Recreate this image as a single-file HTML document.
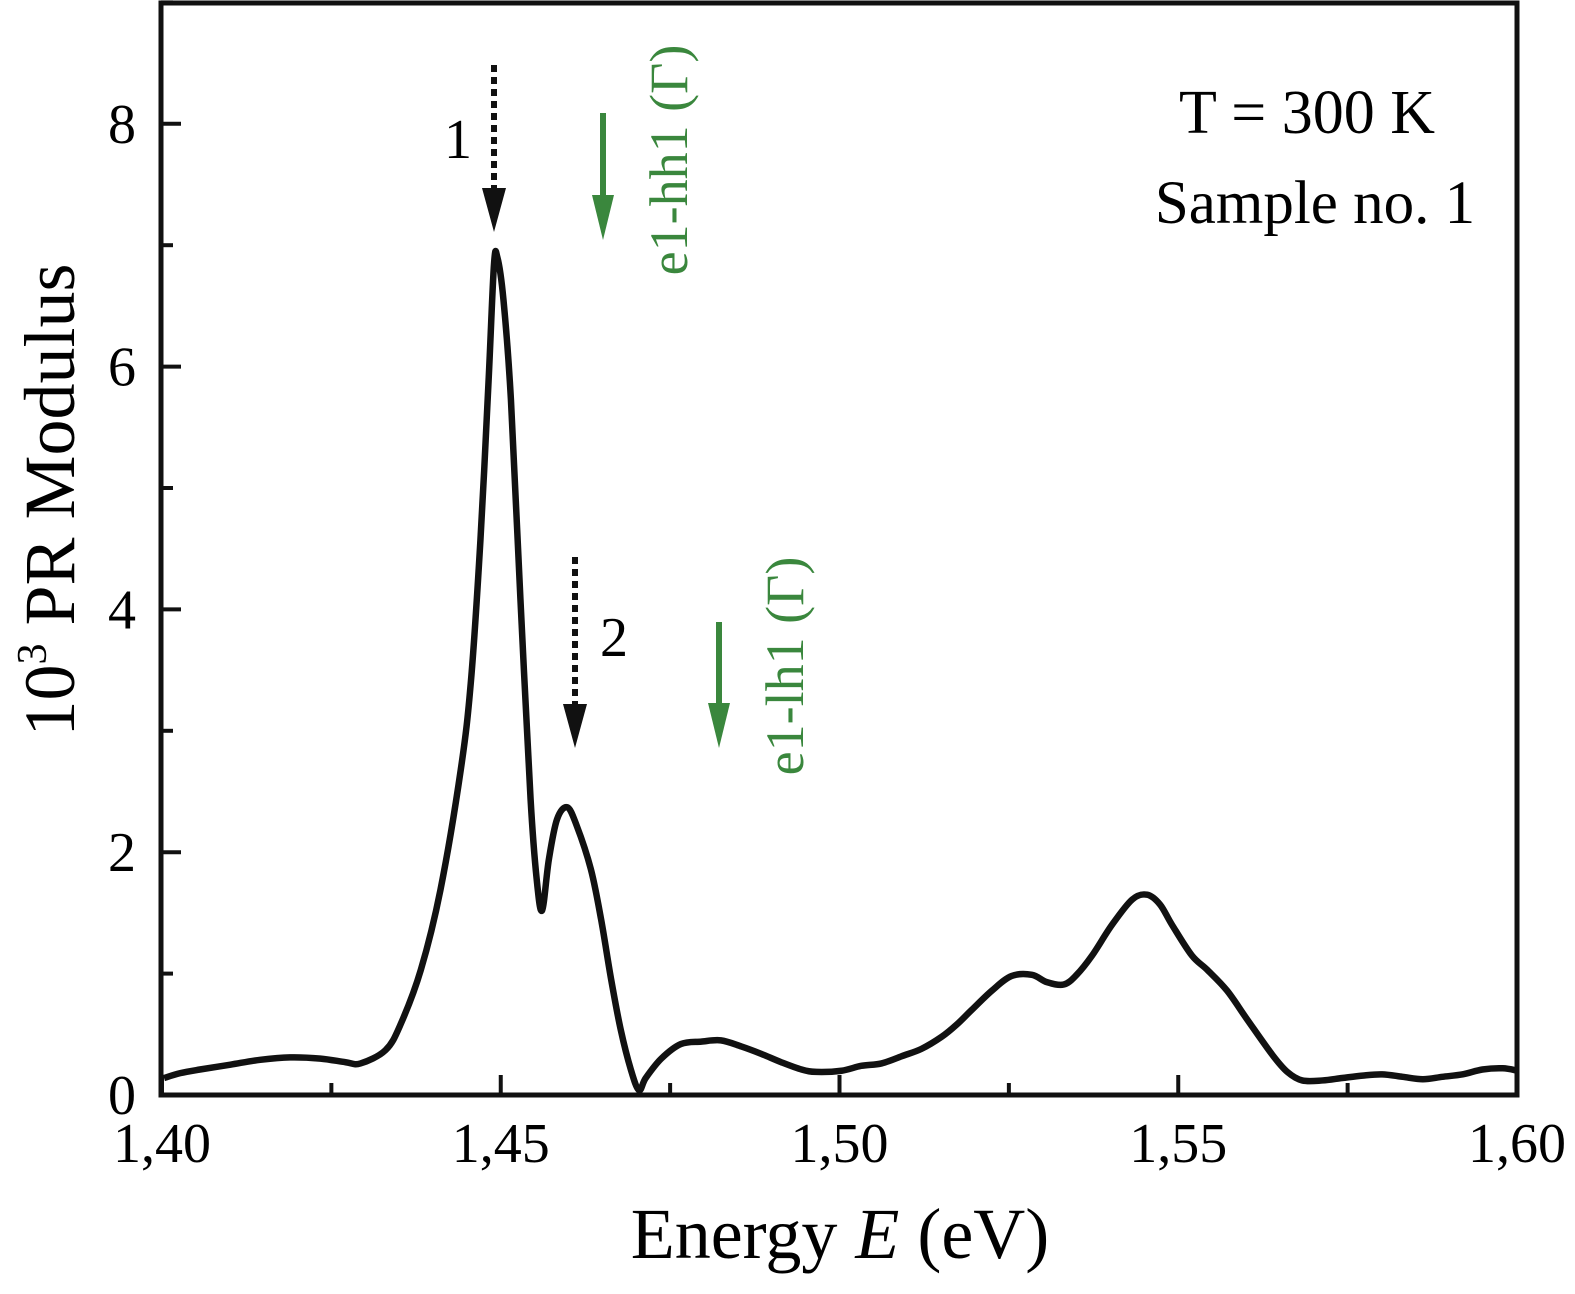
<!DOCTYPE html>
<html><head><meta charset="utf-8"><style>
html,body{margin:0;padding:0;background:#fff;}
svg{display:block;font-family:"Liberation Serif",serif;}
</style></head><body>
<svg id="chart" width="1575" height="1294" viewBox="0 0 1575 1294">
<g id="marks"></g>
<rect x="161" y="3" width="1356" height="1092" fill="none" stroke="#111" stroke-width="5"/>
<g id="ticks"></g>
<text x="840" y="1258" font-size="72" text-anchor="middle">Energy <tspan font-style="italic">E</tspan> (eV)</text>
<text transform="translate(74,500) rotate(-90)" font-size="72" text-anchor="middle">10<tspan font-size="42" dy="-28">3</tspan><tspan dy="28"> PR Modulus</tspan></text>
<text x="1307" y="133" font-size="62" text-anchor="middle">T = 300 K</text>
<text x="1315" y="223" font-size="61" text-anchor="middle">Sample no. 1</text>
<g>
<line x1="494" y1="65" x2="494" y2="192" stroke="#111" stroke-width="6" stroke-dasharray="7,5"/>
<polygon points="482,188 506,188 494,232" fill="#111"/>
</g>
<text x="458" y="158" font-size="56" text-anchor="middle">1</text>
<g>
<line x1="575" y1="557" x2="575" y2="708" stroke="#111" stroke-width="6" stroke-dasharray="7,5"/>
<polygon points="563,704 587,704 575,748" fill="#111"/>
</g>
<text x="614" y="656" font-size="56" text-anchor="middle">2</text>
<g>
<line x1="603" y1="113" x2="603" y2="200" stroke="#3a873d" stroke-width="6"/>
<polygon points="592,195 614,195 603,240" fill="#3a873d"/>
</g>
<text transform="translate(687,160) rotate(-90)" font-size="54" fill="#3a873d" text-anchor="middle">e1-hh1 (Γ)</text>
<g>
<line x1="719" y1="622" x2="719" y2="708" stroke="#3a873d" stroke-width="6"/>
<polygon points="708,703 730,703 719,748" fill="#3a873d"/>
</g>
<text transform="translate(803,666) rotate(-90)" font-size="54" fill="#3a873d" text-anchor="middle">e1-lh1 (Γ)</text>
</svg>
<script>
const energy=[1.4003,1.4027,1.4056,1.4101,1.4145,1.4189,1.4234,1.4271,1.4293,1.4330,1.4352,1.4382,1.4411,1.4441,1.4456,1.4470,1.4482,1.4490,1.4495,1.4504,1.4515,1.4529,1.4544,1.4553,1.4561,1.4571,1.4583,1.4598,1.4612,1.4633,1.4648,1.4663,1.4677,1.4692,1.4704,1.4714,1.4737,1.4766,1.4796,1.4825,1.4855,1.4884,1.4914,1.4944,1.4966,1.5003,1.5032,1.5062,1.5092,1.5121,1.5151,1.5173,1.5195,1.5225,1.5254,1.5284,1.5306,1.5331,1.5350,1.5373,1.5402,1.5432,1.5454,1.5473,1.5491,1.5520,1.5543,1.5572,1.5602,1.5639,1.5661,1.5683,1.5713,1.5742,1.5772,1.5801,1.5831,1.5861,1.5890,1.5920,1.5949,1.5979,1.6001];
const signal=[0.14,0.18,0.21,0.25,0.29,0.31,0.30,0.27,0.26,0.37,0.58,1.03,1.69,2.68,3.41,4.57,5.88,6.84,6.90,6.55,5.73,4.09,2.44,1.78,1.52,1.94,2.27,2.37,2.22,1.86,1.45,0.95,0.54,0.21,0.04,0.14,0.30,0.42,0.44,0.45,0.40,0.34,0.27,0.21,0.19,0.20,0.24,0.26,0.32,0.38,0.48,0.58,0.70,0.86,0.98,0.99,0.93,0.91,0.99,1.15,1.40,1.61,1.65,1.57,1.40,1.15,1.03,0.86,0.62,0.33,0.19,0.12,0.12,0.14,0.16,0.17,0.15,0.13,0.15,0.17,0.21,0.22,0.20];
const xTicks=[1.40,1.45,1.50,1.55,1.60];
const xTickLabels=["1,40","1,45","1,50","1,55","1,60"];
const yTicks=[0,2,4,6,8];
const yTickLabels=["0","2","4","6","8"];
const NS="http://www.w3.org/2000/svg";
const X=e=>162+(e-1.40)/0.20*1355;
const Y=v=>1095-v*121.4;
const marks=document.getElementById('marks'), ticks=document.getElementById('ticks');
const pts=energy.map((e,i)=>[X(e),Y(signal[i])]);
let d="M"+pts[0][0]+","+pts[0][1];
for(let i=0;i<pts.length-1;i++){
 const p0=pts[Math.max(0,i-1)],p1=pts[i],p2=pts[i+1],p3=pts[Math.min(pts.length-1,i+2)];
 const c1=[p1[0]+(p2[0]-p0[0])/6,p1[1]+(p2[1]-p0[1])/6],c2=[p2[0]-(p3[0]-p1[0])/6,p2[1]-(p3[1]-p1[1])/6];
 d+=` C${c1[0]},${c1[1]} ${c2[0]},${c2[1]} ${p2[0]},${p2[1]}`;
}
const path=document.createElementNS(NS,'path');
path.setAttribute('d',d);path.setAttribute('fill','none');path.setAttribute('stroke','#111');path.setAttribute('stroke-width','6.5');path.setAttribute('stroke-linejoin','round');


marks.appendChild(path);
function ln(x1,y1,x2,y2){const l=document.createElementNS(NS,'line');l.setAttribute('x1',x1);l.setAttribute('y1',y1);l.setAttribute('x2',x2);l.setAttribute('y2',y2);l.setAttribute('stroke','#111');l.setAttribute('stroke-width','4');ticks.appendChild(l);return l;}
function tx(x,y,s,anchor){const t=document.createElementNS(NS,'text');t.setAttribute('x',x);t.setAttribute('y',y);t.setAttribute('font-size','56');t.setAttribute('text-anchor',anchor);t.textContent=s;ticks.appendChild(t);return t;}
xTicks.forEach((v,i)=>{
 const l=ln(X(v),1095,X(v),1075);
 
 
 const t=tx(X(v),1162,xTickLabels[i],'middle');
 
 
 if(i<xTicks.length-1){const m=ln(X(v+0.025),1095,X(v+0.025),1083);
 
 }
});
yTicks.forEach((v,i)=>{
 const l=ln(161,Y(v),181,Y(v));
 
 
 const t=tx(136,Y(v)+19,yTickLabels[i],'end');
 
 
 const m=ln(161,Y(v+1),173,Y(v+1));
 
 
});
</script>
</body></html>
